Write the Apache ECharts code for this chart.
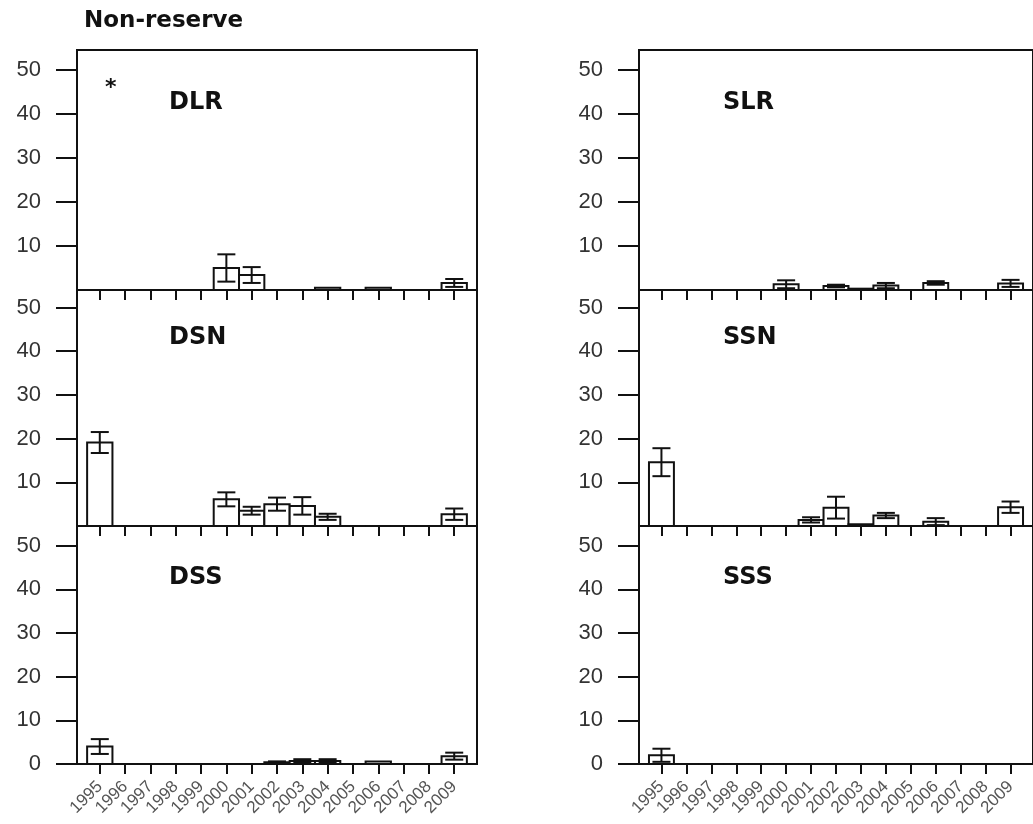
<!DOCTYPE html>
<html>
<head>
<meta charset="utf-8">
<script src="https://cdn.jsdelivr.net/npm/echarts@6/dist/echarts.min.js"></script>
<style>
html,body{margin:0;padding:0;background:#fff;}
#chart{width:1033px;height:824px;}
</style>
</head>
<body>
<div id="chart"></div>
<script>
// ---- data ----
const years = [1995,1996,1997,1998,1999,2000,2001,2002,2003,2004,2005,2006,2007,2008,2009];
const yTicksUpper = [10,20,30,40,50];
const yTicksLower = [0,10,20,30,40,50];

const DLR_mean = [0,0,0,0,0,5.0,3.4,0,0,0.5,0,0.5,0,0,1.6];
const DLR_se   = [0,0,0,0,0,3.1,1.8,0,0,0,0,0,0,0,0.9];
const DSN_mean = [19.1,0,0,0,0,6.1,3.5,5.0,4.6,2.1,0,0,0,0,2.7];
const DSN_se   = [2.4,0,0,0,0,1.6,0.9,1.5,2.0,0.7,0,0,0,0,1.3];
const DSS_mean = [4.0,0,0,0,0,0,0,0.4,0.7,0.7,0,0.6,0,0,1.8];
const DSS_se   = [1.7,0,0,0,0,0,0,0.2,0.4,0.4,0,0,0,0,0.8];
const SLR_mean = [0,0,0,0,0,1.3,0,0.9,0.3,1.0,0,1.6,0,0,1.5];
const SLR_se   = [0,0,0,0,0,0.9,0,0.3,0,0.6,0,0.4,0,0,0.8];
const SSN_mean = [14.6,0,0,0,0,0,1.4,4.2,0.4,2.4,0,1.0,0,0,4.3];
const SSN_se   = [3.2,0,0,0,0,0,0.6,2.5,0,0.6,0,0.8,0,0,1.3];
const SSS_mean = [2.0,0,0,0,0,0,0,0,0,0,0,0,0,0,0];
const SSS_se   = [1.5,0,0,0,0,0,0,0,0,0,0,0,0,0,0];

const panelNames = ['DLR','DSN','DSS','SLR','SSN','SSS'];
const panelMeans = [DLR_mean,DSN_mean,DSS_mean,SLR_mean,SSN_mean,SSS_mean];
const panelSEs   = [DLR_se,DSN_se,DSS_se,SLR_se,SSN_se,SSS_se];

// ---- layout ----
const colLeft = [77, 639];
const rowTop = [50, 290, 526];
const rowH = [240, 236, 238];
const rowMax = [54.5, 54, 54.5];
const ink = '#111';

const grids = [], xAxes = [], yAxes = [], series = [], graphics = [];

for (let c = 0; c < 2; c++) {
  for (let r = 0; r < 3; r++) {
    const idx = c * 3 + r;
    const bottomRow = r === 2;
    grids.push({
      left: colLeft[c], top: rowTop[r], width: 400, height: rowH[r],
      show: true, borderColor: ink, borderWidth: 2, backgroundColor: 'transparent',
      containLabel: false
    });
    xAxes.push({
      type: 'value', gridIndex: idx, min: 1994.1, max: 2009.9,
      axisLine: {show: true, onZero: false, lineStyle: {color: ink, width: 2}},
      axisTick: {show: true, length: 10, lineStyle: {color: ink, width: 2}, customValues: years},
      axisLabel: {
        show: bottomRow, customValues: years, rotate: 45, margin: 20,
        fontFamily: 'Liberation Sans, Arial, sans-serif', fontSize: 17, color: '#555',
        formatter: v => String(Math.round(v))
      },
      splitLine: {show: false}
    });
    const ticks = bottomRow ? yTicksLower : yTicksUpper;
    yAxes.push({
      type: 'value', gridIndex: idx, min: 0, max: rowMax[r],
      axisLine: {show: true, lineStyle: {color: ink, width: 2}},
      axisTick: {show: true, length: 21, lineStyle: {color: ink, width: 2}, customValues: ticks},
      axisLabel: {
        show: true, customValues: ticks, margin: 36,
        fontFamily: 'Liberation Sans, Arial, sans-serif', fontSize: 22, color: '#333'
      },
      splitLine: {show: false}
    });
    const data = years.map((y, i) => [y, panelMeans[idx][i], panelSEs[idx][i]]);
    series.push({
      type: 'custom', xAxisIndex: idx, yAxisIndex: idx, data: data, clip: false,
      renderItem: function (params, api) {
        const x = api.value(0), v = api.value(1), e = api.value(2);
        const p0 = api.coord([x - 0.5, 0]);
        const p1 = api.coord([x + 0.5, v]);
        const children = [{
          type: 'rect',
          shape: {x: p0[0], y: p1[1], width: p1[0] - p0[0], height: p0[1] - p1[1]},
          style: {fill: '#fff', stroke: ink, lineWidth: 2}
        }];
        if (e > 0) {
          const hi = api.coord([x, v + e]);
          const lo = api.coord([x, Math.max(v - e, 0)]);
          const cap = 9;
          children.push({type: 'line', shape: {x1: hi[0], y1: hi[1], x2: lo[0], y2: lo[1]}, style: {stroke: ink, lineWidth: 2}});
          children.push({type: 'line', shape: {x1: hi[0] - cap, y1: hi[1], x2: hi[0] + cap, y2: hi[1]}, style: {stroke: ink, lineWidth: 2}});
          children.push({type: 'line', shape: {x1: lo[0] - cap, y1: lo[1], x2: lo[0] + cap, y2: lo[1]}, style: {stroke: ink, lineWidth: 2}});
        }
        return {type: 'group', children: children};
      }
    });
  }
}

const nameX = [169, 723];
const nameY = [102, 337, 577];
for (let c = 0; c < 2; c++) {
  for (let r = 0; r < 3; r++) {
    graphics.push({
      type: 'text', left: nameX[c], top: nameY[r] - 11,
      style: {text: panelNames[c * 3 + r], font: 'bold 24px "DejaVu Sans", sans-serif', fill: '#111'}
    });
  }
}
graphics.push({
  type: 'text', left: 84, top: 10,
  style: {text: 'Non-reserve', font: 'bold 23px "DejaVu Sans", sans-serif', fill: '#111'}
});
graphics.push({
  type: 'text', left: 105, top: 77,
  style: {text: '*', font: 'bold 22px "DejaVu Sans", sans-serif', fill: '#111'}
});

const chart = echarts.init(document.getElementById('chart'), null, {renderer: 'canvas'});
chart.setOption({
  animation: false,
  backgroundColor: '#fff',
  grid: grids, xAxis: xAxes, yAxis: yAxes, series: series, graphic: graphics
});
</script>
</body>
</html>
